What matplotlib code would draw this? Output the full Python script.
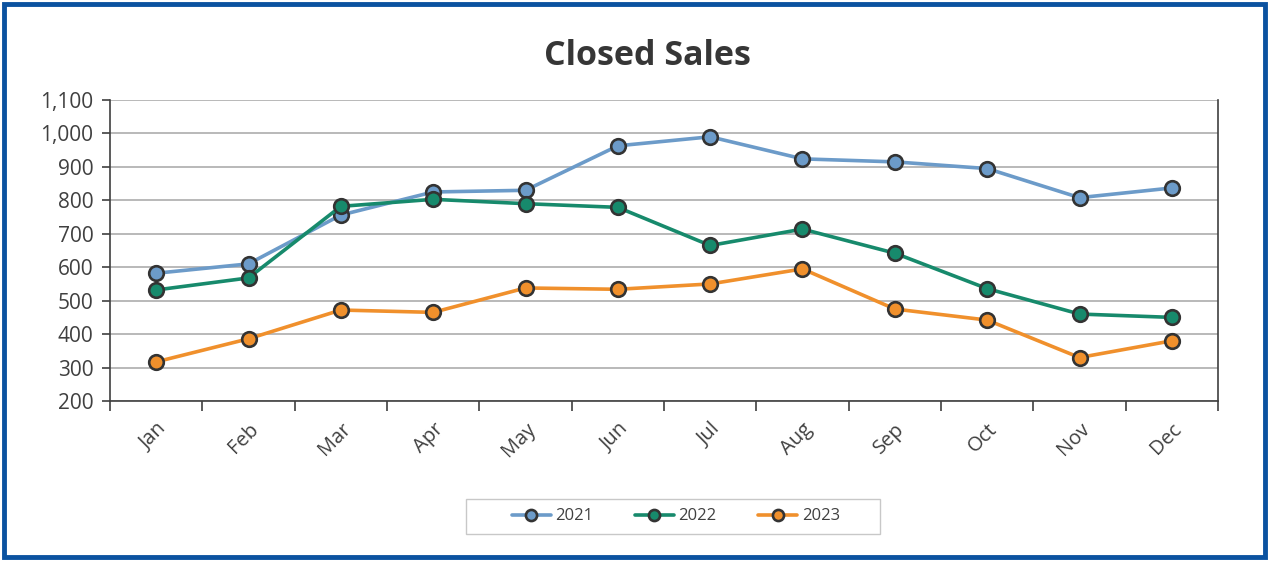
import matplotlib
matplotlib.use("Agg")
import matplotlib.pyplot as plt
from matplotlib.patches import Rectangle

months = ["Jan", "Feb", "Mar", "Apr", "May", "Jun", "Jul", "Aug", "Sep", "Oct", "Nov", "Dec"]
sales_2021 = [582, 610, 756, 825, 830, 963, 990, 924, 915, 895, 808, 837]
sales_2022 = [532, 568, 782, 803, 790, 779, 665, 714, 642, 536, 460, 450]
sales_2023 = [317, 386, 472, 465, 538, 534, 550, 595, 475, 442, 330, 380]
series = [("2021", sales_2021, "#6c9bc9"), ("2022", sales_2022, "#178a6c"), ("2023", sales_2023, "#f0902c")]

plt.rcParams['font.family'] = ['Open Sans', 'DejaVu Sans']

W, H = 1269, 561
fig = plt.figure(figsize=(W/100, H/100), dpi=100)
ax = fig.add_axes([110/W, 1-401/H, (1218-110)/W, (401-100)/H])

x = list(range(len(months)))
for name, vals, col in series:
    ax.plot(x, vals, color=col, lw=2.6, marker='o', markersize=10.5,
            markerfacecolor=col, markeredgecolor='#333333', markeredgewidth=1.9,
            label=name, solid_capstyle='round', zorder=3)

ax.set_xlim(-0.5, 11.5)
ax.set_ylim(200, 1100)
ax.set_yticks(range(200, 1101, 100))
ax.set_yticklabels([f"{v:,}" for v in range(200, 1101, 100)])
ax.yaxis.grid(True, color='#a6a6a6', lw=1.1, zorder=0)
ax.set_axisbelow(True)

ax.set_xticks([i + 0.5 for i in range(-1, 12)])
ax.set_xticklabels([])
ax.set_xticks(x, minor=True)
ax.set_xticklabels(months, minor=True, rotation=45, ha='right', va='top',
                   rotation_mode='anchor')
ax.tick_params(axis='x', which='minor', length=0, pad=13, labelsize=14.5, labelcolor='#404040')
ax.tick_params(axis='x', which='major', length=7, width=1.2, color='#404040', direction='out')
ax.tick_params(axis='y', length=6, width=1.2, color='#404040', labelsize=15, labelcolor='#404040', pad=6)

for s in ['left', 'bottom', 'right']:
    ax.spines[s].set_color('#404040')
    ax.spines[s].set_linewidth(1.2)
ax.spines['top'].set_visible(False)

fig.text(647/W, 1-56/H, "Closed Sales", ha='center', va='center',
         fontsize=24.5, fontweight='bold', color='#363636')

# legend frame
fig.patches.append(Rectangle((466/W, 1-534/H), 414/W, 35/H, transform=fig.transFigure,
                             fill=False, edgecolor='#c8c8c8', lw=1.0))
leg = fig.legend(loc='center', bbox_to_anchor=(676/W, 1-516.5/H),
                 ncol=3, frameon=False, fontsize=12, handlelength=2.3,
                 handletextpad=0.3, columnspacing=2.5, borderpad=0, borderaxespad=0)
for h in leg.legend_handles:
    h.set_markersize(8)
for t in leg.get_texts():
    t.set_color('#404040')

fig.patches.append(Rectangle((4/W, 4/H), 1-8/W, 1-8/H, transform=fig.transFigure,
                             fill=False, edgecolor='#0b52a0', lw=3.5, zorder=10))

fig.savefig("out.png", dpi=100)
